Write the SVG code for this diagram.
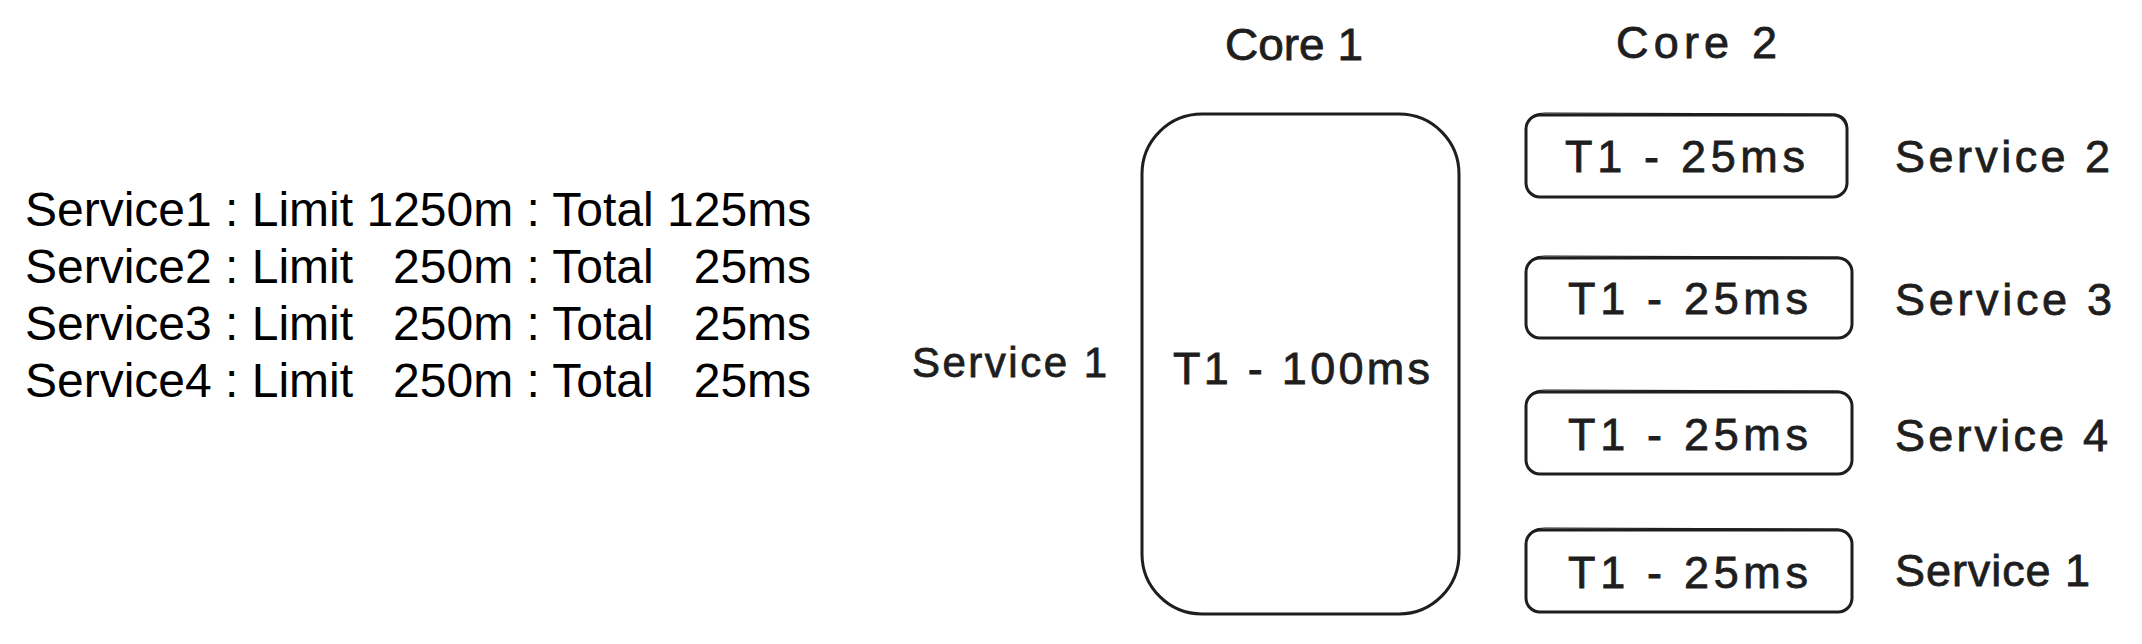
<svg xmlns="http://www.w3.org/2000/svg" width="2142" height="644" viewBox="0 0 2142 644">
<style>
.legend{font-family:"Liberation Sans",Arial,sans-serif;font-size:48px;fill:#000;white-space:pre}
.hand{font-family:"Liberation Sans",Arial,sans-serif;font-size:45px;fill:#1e1e1e;stroke:#1e1e1e;stroke-width:0.8}
.box{fill:none;stroke:#1e1e1e;stroke-width:3;stroke-linejoin:round}
.box2{fill:none;stroke:#1e1e1e;stroke-width:1.2}
</style>
<rect width="2142" height="644" fill="#fff"/>
<g id="legend">
<text class="legend" x="25" y="226" xml:space="preserve">Service1 : Limit 1250m : Total 125ms</text>
<text class="legend" x="25" y="283" xml:space="preserve">Service2 : Limit   250m : Total   25ms</text>
<text class="legend" x="25" y="340" xml:space="preserve">Service3 : Limit   250m : Total   25ms</text>
<text class="legend" x="25" y="397" xml:space="preserve">Service4 : Limit   250m : Total   25ms</text>
</g>
<g id="core1-label"><text class="hand" x="1225" y="60" textLength="138" lengthAdjust="spacingAndGlyphs">Core 1</text></g>
<g id="core2-label"><text class="hand" x="1616" y="58" textLength="161" lengthAdjust="spacing">Core 2</text></g>
<g id="core1-task">
<rect class="box" x="1142" y="114" width="317" height="500" rx="60"/>
<text class="hand" x="1173" y="384" textLength="257" lengthAdjust="spacing">T1 - 100ms</text>
</g>
<g id="service1-left"><text class="hand" style="font-size:42px" x="912" y="377" textLength="195" lengthAdjust="spacing">Service 1</text></g>
<g id="core2-task1">
<rect class="box" x="1526" y="115" width="321" height="82" rx="14"/>
<path class="box2" d="M1530 120 Q1532 113 1545 113 L1835 114 Q1848 116 1847 128"/>
<text class="hand" x="1565" y="172" textLength="240" lengthAdjust="spacing">T1 - 25ms</text>
</g>
<g id="core2-task2">
<rect class="box" x="1526" y="258" width="326" height="80" rx="14"/>
<path class="box2" d="M1530 264 Q1531 256 1545 256 L1838 257 Q1851 259 1852 270"/>
<text class="hand" x="1568" y="314" textLength="240" lengthAdjust="spacing">T1 - 25ms</text>
</g>
<g id="core2-task3">
<rect class="box" x="1526" y="392" width="326" height="82" rx="14"/>
<path class="box2" d="M1530 398 Q1531 390 1545 390 L1838 391 Q1851 393 1852 404"/>
<text class="hand" x="1568" y="450" textLength="240" lengthAdjust="spacing">T1 - 25ms</text>
</g>
<g id="core2-task4">
<rect class="box" x="1526" y="530" width="326" height="82" rx="14"/>
<path class="box2" d="M1530 536 Q1531 528 1545 528 L1838 529 Q1851 531 1852 542"/>
<text class="hand" x="1568" y="588" textLength="240" lengthAdjust="spacing">T1 - 25ms</text>
</g>
<g id="label-service2"><text class="hand" x="1895" y="172" textLength="215" lengthAdjust="spacing">Service 2</text></g>
<g id="label-service3"><text class="hand" x="1895" y="315" textLength="217" lengthAdjust="spacing">Service 3</text></g>
<g id="label-service4"><text class="hand" x="1895" y="451" textLength="213" lengthAdjust="spacing">Service 4</text></g>
<g id="label-service1"><text class="hand" x="1895" y="586" textLength="195" lengthAdjust="spacing">Service 1</text></g>
<g id="connectors"></g>
</svg>
